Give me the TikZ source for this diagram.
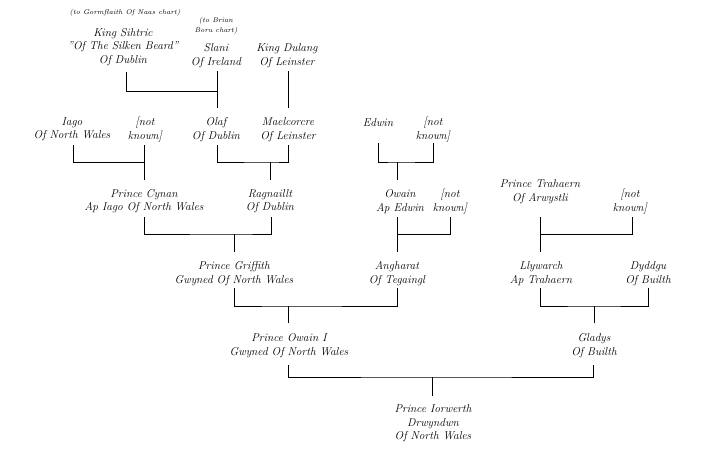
\documentclass[tikz,border=0pt]{standalone}
\begin{document}
\begin{tikzpicture}[x=1pt,y=-1pt,
  person/.style={align=center,inner sep=0pt,font=\fontsize{11.4}{13.5}\selectfont\itshape},
  note/.style={align=center,inner sep=0pt,font=\fontsize{7}{10}\selectfont\itshape},
  link/.style={line width=0.9pt,line cap=rect}]
\useasboundingbox[fill=white] (0,0) rectangle (720,450);
% notes
\node[note] (gnote) at (125,13) {(to Gormflaith Of Naas chart)};
\node[note] (bnote) at (216,25.5) {(to Brian\\Boru chart)};
% row 1
\node[person] (sihtric) at (123,47) {King Sihtric\\"Of The Silken Beard"\\Of Dublin};
\node[person] (slani) at (216,55.5) {Slani\\Of Ireland};
\node[person] (dulang) at (287,55.5) {King Dulang\\Of Leinster};
% row 2
\node[person] (iago) at (72,129.5) {Iago\\Of North Wales};
\node[person] (nka) at (145,129.5) {[not\\known]};
\node[person] (olaf) at (216,129.5) {Olaf\\Of Dublin};
\node[person] (mael) at (288,129.5) {Maelcorcre\\Of Leinster};
\node[person] (edwin) at (378,123) {Edwin};
\node[person] (nkb) at (433,129.5) {[not\\known]};
% row 3
\node[person] (cynan) at (144,201) {Prince Cynan\\Ap Iago Of North Wales};
\node[person] (ragn) at (270,201) {Ragnaillt\\Of Dublin};
\node[person] (owain) at (400,201.5) {Owain\\Ap Edwin};
\node[person] (nkc) at (450,201.5) {[not\\known]};
\node[person] (trah) at (540,191.5) {Prince Trahaern\\Of Arwystli};
\node[person] (nkd) at (630,201.5) {[not\\known]};
% row 4
\node[person] (griff) at (234,273.5) {Prince Griffith\\Gwyned Of North Wales};
\node[person] (ang) at (397,273.5) {Angharat\\Of Tegaingl};
\node[person] (llyw) at (541,273.5) {Llywarch\\Ap Trahaern};
\node[person] (dydd) at (648,273.5) {Dyddgu\\Of Builth};
% row 5
\node[person] (owaini) at (289,345.5) {Prince Owain I\\Gwyned Of North Wales};
\node[person] (gladys) at (594,345.5) {Gladys\\Of Builth};
% row 6
\node[person] (iorw) at (433,423.5) {Prince Iorwerth\\Drwyndwn\\Of North Wales};

% connector points
\coordinate (sihtricB) at (126,72);
\coordinate (slaniB) at (217,71);
\coordinate (dulangB) at (288,71);
\coordinate (olafT) at (217,108);
\coordinate (maelT) at (288,108);
\coordinate (iagoB) at (73,145);
\coordinate (nkaB) at (144,145);
\coordinate (olafB) at (217,145);
\coordinate (maelB) at (288,145);
\coordinate (edwinB) at (378,143);
\coordinate (nkbB) at (433,143);
\coordinate (cynanT) at (144,180);
\coordinate (ragnT) at (270,180);
\coordinate (owainT) at (397,180);
\coordinate (cynanB) at (144,217);
\coordinate (ragnB) at (271,217);
\coordinate (owainB) at (397,217);
\coordinate (nkcB) at (450,217);
\coordinate (trahB) at (540,217);
\coordinate (nkdB) at (632,217);
\coordinate (griffT) at (234,252);
\coordinate (angT) at (397,252);
\coordinate (llywT) at (540,252);
\coordinate (griffB) at (234,288);
\coordinate (angB) at (397,288);
\coordinate (llywB) at (540,288);
\coordinate (dyddB) at (648,288);
\coordinate (owainiT) at (288,323);
\coordinate (gladysT) at (594,323);
\coordinate (owainiB) at (288,365);
\coordinate (gladysB) at (593,365);
\coordinate (iorwT) at (432,396);
% junctions
\coordinate (j1) at (217,91);
\coordinate (j2) at (144,162);
\coordinate (j3) at (270,162);
\coordinate (j4) at (397,162);
\coordinate (j5) at (234,234);
\coordinate (j6) at (397,234);
\coordinate (j7) at (540,234);
\coordinate (j8) at (288,306);
\coordinate (j9) at (594,306);
\coordinate (j10) at (432,377);

% connectors
\draw[link] (sihtricB) |- (j1);
\draw[link] (slaniB) -- (olafT);
\draw[link] (dulangB) -- (maelT);
\draw[link] (iagoB) |- (j2) -| (nkaB);
\draw[link] (j2) -- (cynanT);
\draw[link] (olafB) |- (j3) -| (maelB);
\draw[link] (j3) -- (ragnT);
\draw[link] (edwinB) |- (j4) -| (nkbB);
\draw[link] (j4) -- (owainT);
\draw[link] (cynanB) |- (j5) -| (ragnB);
\draw[link] (j5) -- (griffT);
\draw[link] (owainB) -- (angT);
\draw[link] (j6) -| (nkcB);
\draw[link] (trahB) -- (llywT);
\draw[link] (j7) -| (nkdB);
\draw[link] (griffB) |- (j8) -| (angB);
\draw[link] (j8) -- (owainiT);
\draw[link] (llywB) |- (j9) -| (dyddB);
\draw[link] (j9) -- (gladysT);
\draw[link] (owainiB) |- (j10) -| (gladysB);
\draw[link] (j10) -- (iorwT);
\end{tikzpicture}
\end{document}
